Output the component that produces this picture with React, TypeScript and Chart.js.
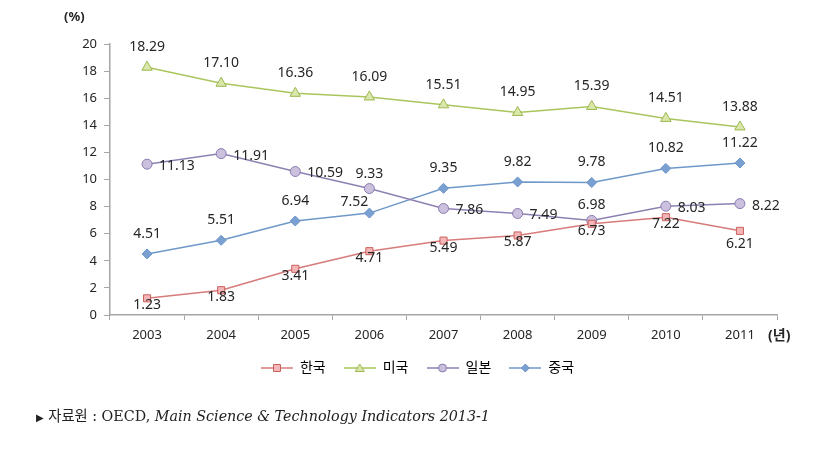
import React, { useEffect, useRef } from "react";
import { Chart, registerables } from "chart.js";

Chart.register(...registerables);

const years = ["2003", "2004", "2005", "2006", "2007", "2008", "2009", "2010", "2011"];
const korea = [1.23, 1.83, 3.41, 4.71, 5.49, 5.87, 6.73, 7.22, 6.21];
const usa = [18.29, 17.1, 16.36, 16.09, 15.51, 14.95, 15.39, 14.51, 13.88];
const japan = [11.13, 11.91, 10.59, 9.33, 7.86, 7.49, 6.98, 8.03, 8.22];
const china = [4.51, 5.51, 6.94, 7.52, 9.35, 9.82, 9.78, 10.82, 11.22];
const seriesNames = ["한국", "미국", "일본", "중국"];
const yTicks = [0, 2, 4, 6, 8, 10, 12, 14, 16, 18, 20];

// label placement per series
const placements: string[][] = [
  ["below", "below", "below", "below", "below", "below", "below", "below", "below2"],
  ["above", "above", "above", "above", "above", "above", "above", "above", "above"],
  ["right", "right", "right", "above2", "right", "right", "above2", "right", "right"],
  ["above", "above", "above", "aboveLeft", "above", "above", "above", "above", "above"],
];

const FONT = "'Noto Sans', 'Noto Sans CJK KR', sans-serif";

const styles = [
  { line: "#d77b7b", fill: "#f4b6b6", border: "#c9605e", shape: "rect", r: 5 },
  { line: "#aac55c", fill: "#dbe7aa", border: "#9bb850", shape: "triangle", r: 6 },
  { line: "#8d80b2", fill: "#cbc0de", border: "#8a7bb0", shape: "circle", r: 5 },
  { line: "#6f98c9", fill: "#7aa0d2", border: "#6a93c6", shape: "rectRot", r: 5 },
];

function legendIcon(i: number) {
  const c = document.createElement("canvas");
  c.width = 32;
  c.height = 12;
  const ctx = c.getContext("2d")!;
  const s = styles[i];
  ctx.strokeStyle = s.line;
  ctx.lineWidth = 1.5;
  ctx.beginPath();
  ctx.moveTo(0, 6);
  ctx.lineTo(32, 6);
  ctx.stroke();
  ctx.fillStyle = s.fill;
  ctx.strokeStyle = s.border;
  ctx.lineWidth = 1;
  ctx.beginPath();
  if (s.shape === "rect") {
    ctx.rect(12.5, 2.5, 7, 7);
  } else if (s.shape === "triangle") {
    ctx.moveTo(16, 2);
    ctx.lineTo(20.5, 9.5);
    ctx.lineTo(11.5, 9.5);
    ctx.closePath();
  } else if (s.shape === "circle") {
    ctx.arc(16, 6, 4, 0, Math.PI * 2);
  } else {
    ctx.moveTo(16, 2);
    ctx.lineTo(20, 6);
    ctx.lineTo(16, 10);
    ctx.lineTo(12, 6);
    ctx.closePath();
  }
  ctx.fill();
  ctx.stroke();
  return c;
}

const labelPlugin = {
  id: "dataLabels",
  afterDatasetsDraw(chart: any) {
    const ctx = chart.ctx;
    ctx.save();
    ctx.font = `14px ${FONT}`;
    ctx.fillStyle = "#262626";
    chart.data.datasets.forEach((ds: any, i: number) => {
      const meta = chart.getDatasetMeta(i);
      meta.data.forEach((pt: any, j: number) => {
        const txt = Number(ds.data[j]).toFixed(2);
        const p = placements[i][j];
        let x = pt.x;
        let y = pt.y;
        ctx.textBaseline = "middle";
        ctx.textAlign = "center";
        if (p === "above") y -= 20;
        else if (p === "above2") y -= 15;
        else if (p === "aboveLeft") {
          x -= 15;
          y -= 11;
        } else if (p === "below") y += 7;
        else if (p === "below2") y += 13;
        else if (p === "right") {
          ctx.textAlign = "left";
          x += 12;
          y += 2;
        }
        ctx.fillText(txt, x, y);
      });
    });
    ctx.restore();
  },
};

export default function App() {
  const ref = useRef<HTMLCanvasElement>(null);
  useEffect(() => {
    document.body.style.margin = "0";
    const series = [korea, usa, japan, china];
    const icons = series.map((_, i) => legendIcon(i));
    const chart = new Chart(ref.current!, {
      type: "line",
      data: {
        labels: years,
        datasets: series.map((d, i) => ({
          label: seriesNames[i],
          data: d,
          borderColor: styles[i].line,
          backgroundColor: styles[i].fill,
          pointBackgroundColor: styles[i].fill,
          pointBorderColor: styles[i].border,
          pointBorderWidth: 1,
          pointStyle: styles[i].shape as any,
          pointRadius: styles[i].r,
          borderWidth: 1.5,
          tension: 0,
        })),
      },
      options: {
        responsive: true,
        maintainAspectRatio: false,
        animation: false,
        layout: { padding: { top: 44, left: 58, right: 55, bottom: 66 } },
        plugins: {
          tooltip: { enabled: false },
          legend: {
            display: true,
            position: "bottom",
            labels: {
              usePointStyle: true,
              pointStyleWidth: 32,
              padding: 18,
              color: "#262626",
              font: { family: FONT, size: 14 },
              generateLabels: () =>
                seriesNames.map((n, i) => ({
                  text: n,
                  pointStyle: icons[i] as any,
                  fillStyle: styles[i].fill,
                  strokeStyle: styles[i].line,
                  lineWidth: 0,
                  datasetIndex: i,
                  hidden: false,
                })),
            },
          },
        },
        scales: {
          x: {
            offset: true,
            grid: {
              display: true,
              drawOnChartArea: false,
              drawTicks: true,
              tickLength: 5,
              color: "#a6a6a6",
              offset: true,
            },
            border: { color: "#a6a6a6", width: 1.5 },
            ticks: {
              color: "#262626",
              font: { family: FONT, size: 13 },
              padding: 7,
              maxRotation: 0,
            },
            afterFit: (s: any) => {
              s.height = 28;
            },
          },
          y: {
            min: 0,
            max: 20,
            afterBuildTicks: (s: any) => {
              s.ticks = yTicks.map((v) => ({ value: v }));
            },
            grid: {
              display: true,
              drawOnChartArea: false,
              drawTicks: true,
              tickLength: 6,
              color: "#a6a6a6",
            },
            border: { color: "#a6a6a6", width: 1.5 },
            ticks: {
              color: "#262626",
              font: { family: FONT, size: 13 },
              padding: 7,
            },
            afterFit: (s: any) => {
              s.width = 52;
            },
          },
        },
      },
      plugins: [labelPlugin],
    });
    return () => chart.destroy();
  }, []);

  return (
    <div style={{ position: "absolute", left: 0, top: 0, width: 832, height: 451, background: "#fff" }}>
      <canvas ref={ref} />
      <div
        style={{
          position: "absolute",
          left: 64,
          top: 7,
          fontFamily: FONT,
          fontSize: 13,
          fontWeight: "bold",
          color: "#262626",
        }}
      >
        (%)
      </div>
      <div
        style={{
          position: "absolute",
          left: 768,
          top: 324,
          fontFamily: FONT,
          fontSize: 14,
          fontWeight: "bold",
          color: "#262626",
        }}
      >
        (년)
      </div>
      <div
        style={{
          position: "absolute",
          left: 36,
          top: 404,
          fontFamily: "'DejaVu Serif', 'Noto Sans CJK KR', serif",
          fontSize: 14.3,
          color: "#222",
          whiteSpace: "nowrap",
        }}
      >
        <span style={{ fontSize: 10 }}>▶</span> 자료원 : OECD, <i>Main Science &amp; Technology Indicators 2013-1</i>
      </div>
    </div>
  );
}
